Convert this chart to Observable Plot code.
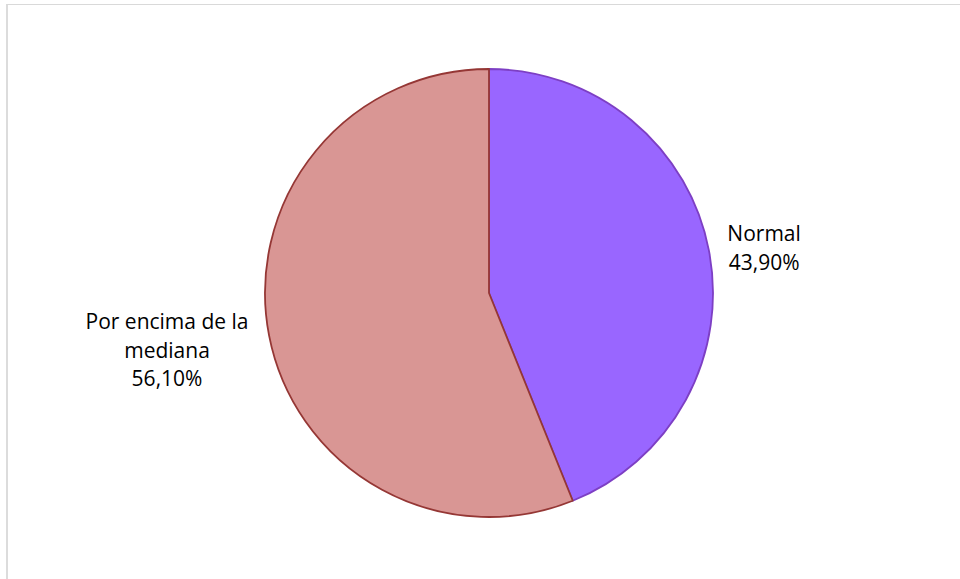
<!DOCTYPE html>
<html>
<head>
<meta charset="utf-8">
<script src="https://cdn.jsdelivr.net/npm/d3@7"></script>
<script src="https://cdn.jsdelivr.net/npm/@observablehq/plot@0.6"></script>
<style>
  html, body { margin: 0; padding: 0; background: #fff; }
  #wrap { position: relative; width: 960px; height: 579px; overflow: hidden; }
  #border { position: absolute; left: 6px; top: 4px; width: 1000px; height: 1000px;
            border-left: 2px solid #dcdcdc; border-top: 1px solid #d9d9d9; box-sizing: border-box; pointer-events: none; }
</style>
</head>
<body>
<div id="wrap"><div id="border"></div></div>
<script>
const categories = ["Normal", "Por encima de la\nmediana"];
const values = [43.9, 56.1];
const valueLabels = ["43,90%", "56,10%"];
const fills = ["#9966ff", "#d99694"];
const strokes = ["#7d3fc4", "#953735"];

const data = categories.map((c, i) => ({category: c, value: values[i], label: valueLabels[i], fill: fills[i], stroke: strokes[i]}));
const arcs = d3.pie().sort(null).value(d => d.value)(data);

const FONT = "Open Sans";
const FS = 21;
const ctx = document.createElement("canvas").getContext("2d");
ctx.font = `${FS}px "${FONT}"`;

const R = 224; // px radius implied by margins below
const labels = arcs.map(a => {
  const mid = (a.startAngle + a.endAngle) / 2;
  const text = a.data.category + "\n" + a.data.label;
  const half = d3.max(text.split("\n"), s => ctx.measureText(s).width) / 2;
  const d = (R * 1.07 + half * 1.09) / R;
  return {text, x: Math.sin(mid) * d, y: Math.cos(mid) * d * 0.88};
});

function pieMark(index, scales, values, dims, context) {
  const cx = scales.x(0), cy = scales.y(0), r = scales.x(1) - scales.x(0);
  const g = d3.create("svg:g");
  g.selectAll("path").data(arcs).join("path")
    .attr("transform", `translate(${cx},${cy})`)
    .attr("d", d3.arc().innerRadius(0).outerRadius(r))
    .attr("fill", d => d.data.fill)
    .attr("stroke", d => d.data.stroke)
    .attr("stroke-width", 1.8)
    .attr("stroke-linejoin", "round");
  return g.node();
}

const chart = Plot.plot({
  width: 960,
  height: 579,
  marginLeft: 265,
  marginRight: 247,
  marginTop: 69,
  marginBottom: 62,
  x: {domain: [-1, 1], axis: null},
  y: {domain: [-1, 1], axis: null},
  style: {fontFamily: FONT, background: "transparent"},
  marks: [
    pieMark,
    Plot.text(labels, {x: "x", y: "y", text: "text", fontSize: FS, lineHeight: 1.36, fill: "#000", textAnchor: "middle"})
  ]
});
chart.style.position = "absolute";
chart.style.left = "0px";
chart.style.top = "0px";
document.getElementById("wrap").prepend(chart);
</script>
</body>
</html>
